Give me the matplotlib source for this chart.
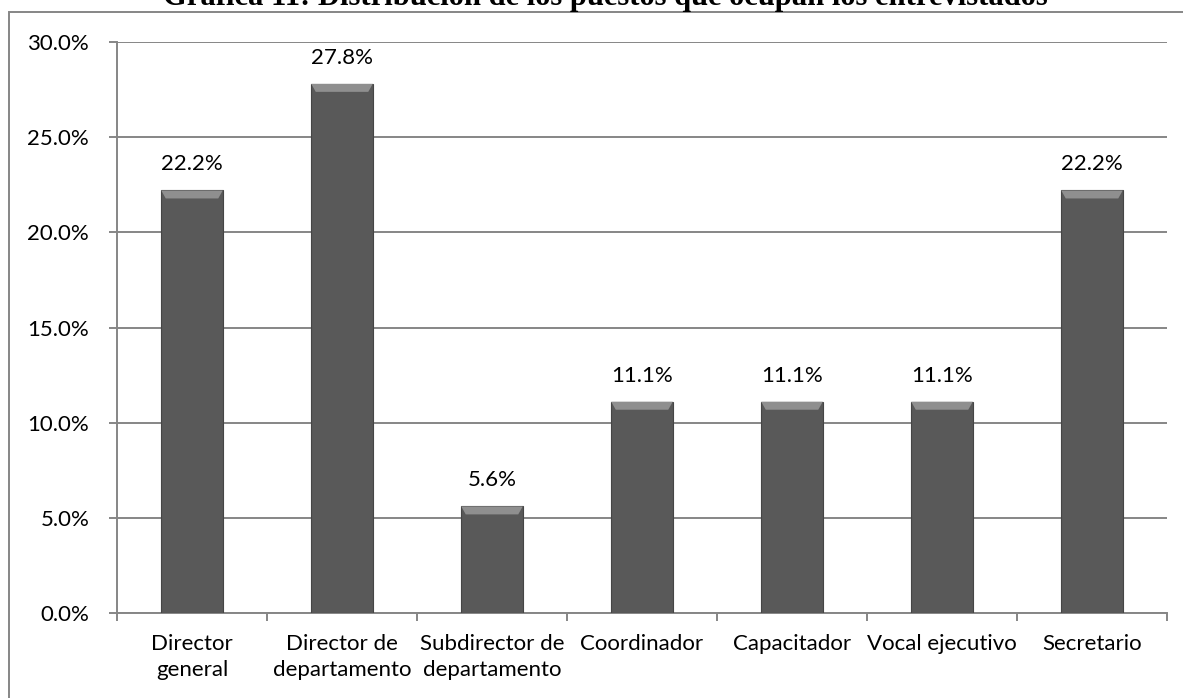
import matplotlib.pyplot as plt
import matplotlib.patches as patches
import numpy as np

# data
categories = ['Director\ngeneral', 'Director de\ndepartamento', 'Subdirector de\ndepartamento',
              'Coordinador', 'Capacitador', 'Vocal ejecutivo', 'Secretario']
values = [22.2, 27.8, 5.6, 11.1, 11.1, 11.1, 22.2]
yticks = [0, 5, 10, 15, 20, 25, 30]
title = 'Gráfica 11: Distribución de los puestos que ocupan los entrevistados'

plt.rcParams['font.family'] = ['Lato', 'DejaVu Sans']

fig = plt.figure(figsize=(11.83, 6.98), dpi=100)
ax = fig.add_axes([117/1183, 85/698, 1050/1183, 571/698])

x = np.arange(len(values))
w = 0.41
grid_col = '#868686'

# bars body
ax.bar(x, values, width=w, color='#595959', edgecolor='#454545', linewidth=0.8, zorder=3)
# top bevel highlight
cap = 0.42
for xi, v in zip(x, values):
    pts = [(xi - w/2, v), (xi + w/2, v), (xi + w/2 - 0.03, v - cap), (xi - w/2 + 0.03, v - cap)]
    ax.add_patch(patches.Polygon(pts, closed=True, facecolor='#8f8f8f', edgecolor='none', zorder=4))
    ax.text(xi, v + 0.85, f'{v:.1f}%', ha='center', va='bottom', fontsize=16, color='black')

ax.set_xlim(-0.5, len(values) - 0.5)
ax.set_ylim(0, 30)
ax.set_yticks(yticks)
ax.set_yticklabels([f'{t:.1f}%' for t in yticks], fontsize=16)
ax.yaxis.grid(True, color=grid_col, linewidth=1.4, zorder=0)
ax.set_axisbelow(True)

ax.set_xticks(x)
ax.set_xticklabels(categories, fontsize=16, linespacing=1.4)
ax.set_xticks(np.arange(len(values) + 1) - 0.5, minor=True)
ax.tick_params(axis='x', which='major', length=0, pad=15)
ax.tick_params(axis='x', which='minor', length=6, color=grid_col, width=1.4)
ax.tick_params(axis='y', length=6, color=grid_col, width=1.4, pad=14)

for s in ['top', 'right']:
    ax.spines[s].set_visible(False)
for s in ['left', 'bottom']:
    ax.spines[s].set_color(grid_col)
    ax.spines[s].set_linewidth(1.4)

# outer frame of the chart area
fig.patches.append(patches.Rectangle((9/1183, -0.05), 1.1, 1 - 12/698 + 0.05, transform=fig.transFigure,
                                     fill=False, edgecolor=grid_col, linewidth=1.4))

fig.text(0.512, 1 - 5/698, title, ha='center', va='baseline', fontsize=22, fontweight='bold',
         family='Liberation Serif')

fig.savefig('out.png', dpi=100)
